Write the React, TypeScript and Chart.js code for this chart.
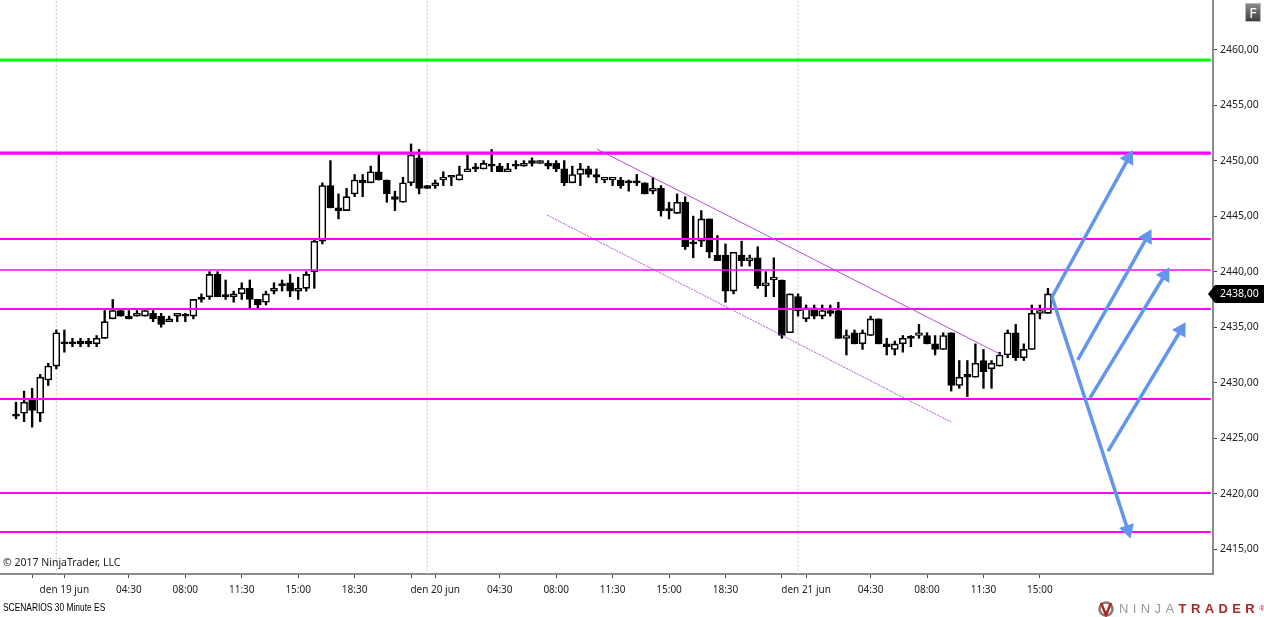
import { useEffect, useRef } from 'react';
import { Chart, registerables } from 'chart.js';

Chart.register(...registerables);

const FONT = '"Noto Sans", "Liberation Sans", Arial, sans-serif';

// 30 minute ES bars, first to last
const opens = [2427, 2427.25, 2428.5, 2427.25, 2430.25, 2431.5, 2433.5, 2433.5, 2433.75, 2433.75, 2433.5, 2434, 2435.75, 2436.5, 2436, 2436, 2436, 2436.25, 2436, 2435.5, 2436, 2436, 2436, 2437.5, 2437.75, 2439.75, 2437.75, 2437.75, 2438, 2438.5, 2437.5, 2437.25, 2438.25, 2438.75, 2439, 2438.25, 2438.5, 2440, 2442.75, 2447.75, 2445.75, 2445.5, 2447, 2448.25, 2448, 2449, 2448.25, 2446.75, 2446.25, 2448, 2450.25, 2447.75, 2447.75, 2448.25, 2448.5, 2448.25, 2449, 2449.25, 2449.25, 2449.5, 2449.5, 2449, 2449.5, 2449.5, 2450, 2449.75, 2449.75, 2449.75, 2449.25, 2448, 2448.75, 2449.25, 2448.75, 2448.25, 2448.25, 2448.25, 2448, 2448, 2448, 2447.25, 2447.5, 2445.5, 2445.25, 2446.25, 2442.5, 2442.75, 2444.75, 2441.5, 2441.5, 2438.25, 2441.5, 2441, 2441.25, 2438.75, 2439.25, 2439.25, 2434.5, 2437.75, 2435.75, 2436.75, 2436, 2436.5, 2436.5, 2434, 2434.5, 2433.5, 2434.25, 2435.75, 2433.5, 2433, 2433.5, 2434, 2434.25, 2434.25, 2433.5, 2433, 2434.5, 2429.75, 2430.75, 2430.5, 2432, 2431.25, 2431.5, 2432.5, 2434.5, 2432.25, 2433, 2436.25, 2436.25];
const highs = [2428.25, 2429.25, 2429.5, 2430.75, 2431.75, 2434.75, 2434.75, 2434, 2434, 2434, 2434.25, 2436.5, 2437.5, 2436.5, 2436.5, 2436.5, 2436.5, 2436.5, 2436.25, 2436, 2436.25, 2436.25, 2437.5, 2438, 2440, 2440, 2439.25, 2438.25, 2439, 2439.25, 2437.5, 2438.25, 2439, 2439.25, 2439.75, 2439.5, 2440, 2443, 2448, 2450, 2447, 2447.5, 2448.75, 2448.75, 2449.5, 2450.75, 2448.25, 2447.25, 2448.5, 2451.5, 2451, 2447.75, 2448.25, 2449, 2448.5, 2449.5, 2450.5, 2449.75, 2450, 2451, 2449.75, 2449.75, 2450, 2450, 2450.25, 2450, 2450, 2450, 2450, 2449.5, 2449.75, 2449.5, 2449.25, 2448.5, 2448.5, 2448.5, 2448.25, 2448.75, 2448, 2448.5, 2447.75, 2446.25, 2447, 2446.75, 2445, 2445.5, 2444.75, 2443.25, 2442.5, 2441.75, 2442.75, 2441.5, 2442.25, 2440, 2441.25, 2439.25, 2438, 2438, 2437, 2437, 2437, 2437, 2437.25, 2434.75, 2434.75, 2434.75, 2436, 2435.75, 2434, 2433.75, 2434.25, 2434.25, 2435.25, 2434.5, 2434.25, 2434.5, 2434.5, 2432, 2432, 2433.5, 2433, 2432, 2432.75, 2434.75, 2435.25, 2433.5, 2437, 2437, 2438.5];
const lows = [2426.75, 2426.5, 2426, 2426.5, 2429.75, 2431.25, 2432.75, 2433.25, 2433.25, 2433.25, 2433.25, 2434, 2435.75, 2436, 2435.75, 2436, 2436, 2435.5, 2435, 2435.5, 2435.5, 2435.5, 2435.75, 2437.25, 2437.5, 2437.75, 2437.5, 2437.25, 2437.5, 2436.75, 2436.75, 2437, 2438, 2438.25, 2437.75, 2437.5, 2438.25, 2438.5, 2442.5, 2445.75, 2444.75, 2445.5, 2446.75, 2446.75, 2448, 2448.25, 2446.25, 2445.5, 2446.25, 2447.75, 2447, 2447.5, 2447.5, 2447.75, 2447.75, 2448.25, 2449, 2449, 2449.25, 2449, 2449, 2449, 2449.25, 2449.5, 2449.5, 2449.75, 2449.25, 2449, 2447.75, 2448, 2447.75, 2448.5, 2448, 2448, 2447.75, 2447.5, 2447.25, 2447.75, 2447, 2447, 2445, 2444.75, 2445.25, 2442, 2441.25, 2442.25, 2441.25, 2441, 2437.25, 2438, 2440.5, 2440.5, 2438.5, 2437.75, 2437.75, 2434, 2434.5, 2436, 2435.5, 2435.75, 2435.75, 2436, 2434, 2432.5, 2433.5, 2433, 2434.25, 2433.5, 2432.5, 2432.5, 2432.75, 2433.25, 2434, 2433.5, 2432.5, 2433, 2429.25, 2429.5, 2428.75, 2430.5, 2429.5, 2429.5, 2431.5, 2432.25, 2432, 2432, 2433, 2435.75, 2436.25];
const closes = [2427, 2428.25, 2427.5, 2430.5, 2431.5, 2434.5, 2433.5, 2433.5, 2433.5, 2433.5, 2434, 2435.5, 2436.5, 2436, 2435.75, 2436.25, 2436.5, 2435.75, 2435.25, 2435.75, 2436.25, 2436, 2437.5, 2437.5, 2439.75, 2437.75, 2437.75, 2438, 2438.5, 2437.5, 2437, 2438, 2438.5, 2438.75, 2438.25, 2438.5, 2439.75, 2442.75, 2447.75, 2445.75, 2445.5, 2446.75, 2448.25, 2448, 2449, 2448.25, 2447, 2446.5, 2448, 2450.5, 2447.5, 2447.5, 2448, 2448.5, 2448.5, 2448.75, 2449.25, 2449.25, 2449.75, 2449.5, 2449, 2449.25, 2449.5, 2449.75, 2449.75, 2450, 2449.5, 2449.25, 2448, 2448.75, 2449.25, 2448.75, 2448.5, 2448.5, 2448.5, 2447.75, 2448, 2448, 2447, 2447.5, 2445.5, 2445.5, 2446.25, 2442.25, 2442.5, 2444.75, 2441.75, 2441, 2438.25, 2441.75, 2441, 2441.25, 2438.75, 2439, 2439.5, 2434.25, 2438, 2436.5, 2436.75, 2436, 2436.5, 2436.25, 2434, 2434.25, 2433.5, 2434.5, 2435.75, 2433.5, 2433.25, 2433.5, 2434, 2434, 2434.5, 2433.5, 2433, 2434.25, 2429.75, 2430.5, 2430.5, 2431.75, 2431, 2431.75, 2432.5, 2434.5, 2432.25, 2433, 2436.25, 2436.5, 2438];

const priceTicks = [2415, 2420, 2425, 2430, 2435, 2440, 2445, 2450, 2455, 2460];
const timeTickBars = [2, 6, 14, 21, 28, 35, 42, 49, 52, 60, 67, 74, 81, 88, 95, 98, 106, 113, 120, 127];
const timeTickLabels = ['', 'den 19 jun', '04:30', '08:00', '11:30', '15:00', '18:30', '', 'den 20 jun', '04:30', '08:00', '11:30', '15:00', '18:30', '', 'den 21 jun', '04:30', '08:00', '11:30', '15:00'];
const sessionBars = [5, 51, 97];

const greenLevel = 2459.05;
const magentaLevels = [
  { price: 2450.68, width: 3.2 },
  { price: 2442.94, width: 2 },
  { price: 2440.15, width: 1.5 },
  { price: 2436.64, width: 2 },
  { price: 2428.54, width: 2 },
  { price: 2420.07, width: 2 },
  { price: 2416.56, width: 2 },
];
const levelEndBar = 148.2;

const channelTop = [{ x: 72.06, y: 2451.04 }, { x: 122.05, y: 2432.58 }];
const channelBottom = [{ x: 65.86, y: 2445.1 }, { x: 116, y: 2426.46 }];

// scenario arrows: start bar/price, end bar/price, head rotation
const arrows = [
  { from: [128.5, 2437.72], to: [138.0, 2450.23], rot: 29 },
  { from: [131.7, 2432.05], to: [140.3, 2443.12], rot: 29 },
  { from: [133.2, 2428.62], to: [142.5, 2439.7], rot: 31 },
  { from: [135.45, 2423.85], to: [144.5, 2434.75], rot: 31 },
  { from: [128.5, 2437.72], to: [137.9, 2416.75], rot: 162 },
];

const barIndex = closes.map((_, i) => i);
const formatPrice = (v: number) => v.toFixed(2).replace('.', ',');

// keeps the plot flush with the canvas edges, tick labels may not push it in
const noScalePadding = (scale: any) => {
  scale.paddingTop = 0;
  scale.paddingBottom = 0;
  scale.paddingLeft = 0;
  scale.paddingRight = 0;
};

const lastPriceTag = {
  id: 'lastPriceTag',
  afterDraw(chart: Chart) {
    const { ctx, scales } = chart;
    const y = scales.y.getPixelForValue(closes[closes.length - 1]);
    const x = scales.y.left;
    ctx.save();
    ctx.fillStyle = '#000';
    ctx.beginPath();
    ctx.moveTo(x - 5, y);
    ctx.lineTo(x + 2, y - 9);
    ctx.lineTo(1264, y - 9);
    ctx.lineTo(1264, y + 9);
    ctx.lineTo(x + 2, y + 9);
    ctx.closePath();
    ctx.fill();
    ctx.fillStyle = '#fff';
    ctx.font = `10.5px ${FONT}`;
    ctx.textBaseline = 'middle';
    ctx.fillText(formatPrice(closes[closes.length - 1]), x + 7, y + 0.5);
    ctx.restore();
  },
};

export default function App() {
  const canvasRef = useRef<HTMLCanvasElement>(null);

  useEffect(() => {
    if (!canvasRef.current) return;
    const lineBase = { type: 'line' as const, pointRadius: 0, fill: false, borderCapStyle: 'butt' as const };
    const chart = new Chart(canvasRef.current, {
      type: 'bar',
      data: {
        datasets: [
          ...sessionBars.map((bar) => ({
            ...lineBase,
            order: 9,
            data: [{ x: bar, y: 2412 }, { x: bar, y: 2466 }],
            borderColor: '#c4c4c4',
            borderWidth: 1,
            borderDash: [2, 2],
          })),
          {
            order: 7,
            barThickness: 1.7,
            grouped: false,
            data: barIndex.map((i) => ({ x: i, y: [lows[i], highs[i]] })),
            backgroundColor: '#000',
            borderWidth: 0,
          },
          {
            order: 6,
            barThickness: 7,
            grouped: false,
            minBarLength: 2,
            data: barIndex.map((i) => ({ x: i, y: [opens[i], closes[i]] })),
            backgroundColor: barIndex.map((i) => (closes[i] > opens[i] ? '#fff' : '#000')),
            borderColor: '#000',
            borderWidth: 1.6,
            borderSkipped: false,
          },
          {
            ...lineBase,
            order: 4,
            data: [{ x: -3, y: greenLevel }, { x: levelEndBar, y: greenLevel }],
            borderColor: '#00ff00',
            borderWidth: 3,
          },
          ...magentaLevels.map((level) => ({
            ...lineBase,
            order: 4,
            data: [{ x: -3, y: level.price }, { x: levelEndBar, y: level.price }],
            borderColor: '#ff00ff',
            borderWidth: level.width,
          })),
          {
            ...lineBase,
            order: 3,
            data: channelTop,
            borderColor: '#b050e0',
            borderWidth: 1,
          },
          {
            ...lineBase,
            order: 3,
            data: channelBottom,
            borderColor: '#b050e0',
            borderWidth: 1,
            borderDash: [2, 1],
          },
          ...arrows.map((arrow) => ({
            ...lineBase,
            order: 1,
            data: [{ x: arrow.from[0], y: arrow.from[1] }, { x: arrow.to[0], y: arrow.to[1] }],
            borderColor: '#6495ed',
            borderWidth: 3.5,
            pointStyle: 'triangle',
            pointRadius: [0, 9],
            pointRotation: [0, arrow.rot],
            pointBackgroundColor: '#6495ed',
            pointBorderColor: '#6495ed',
            pointBorderWidth: 0,
          })),
        ] as any,
      },
      options: {
        animation: false,
        responsive: false,
        events: [],
        layout: { padding: 0, autoPadding: false },
        plugins: { legend: { display: false }, tooltip: { enabled: false } },
        scales: {
          x: {
            type: 'linear',
            offset: false,
            min: -1.985,
            max: 148.47,
            grid: { offset: false, drawOnChartArea: false, tickLength: 4, tickColor: '#444' },
            border: { color: '#8c8c8c', width: 2 },
            afterFit: (scale: any) => { scale.height = 43; noScalePadding(scale); },
            afterBuildTicks: (scale: any) => { scale.ticks = timeTickBars.map((value) => ({ value })); },
            ticks: {
              autoSkip: false,
              maxRotation: 0,
              padding: 6,
              color: '#222',
              font: { family: FONT, size: 10 },
              callback: (_v: any, i: number) => timeTickLabels[i],
            },
          },
          y: {
            position: 'right',
            min: 2412.78,
            max: 2464.46,
            beginAtZero: false,
            grid: { drawOnChartArea: false, tickLength: 4, tickColor: '#444' },
            border: { color: '#8c8c8c', width: 2 },
            afterFit: (scale: any) => { scale.width = 51; noScalePadding(scale); },
            afterBuildTicks: (scale: any) => { scale.ticks = priceTicks.map((value) => ({ value })); },
            ticks: {
              padding: 3,
              color: '#222',
              font: { family: FONT, size: 10.5 },
              callback: (v: any) => formatPrice(Number(v)),
            },
          },
        },
      },
      plugins: [lastPriceTag],
    });
    return () => chart.destroy();
  }, []);

  return (
    <div style={{ position: 'fixed', left: 0, top: 0, width: 1264, height: 617, background: '#fff', overflow: 'hidden', fontFamily: FONT }}>
      <canvas ref={canvasRef} width={1264} height={617} style={{ display: 'block' }} />
      <div style={{ position: 'absolute', left: 3, top: 555, fontSize: 10.5, color: '#222', whiteSpace: 'nowrap' }}>© 2017 NinjaTrader, LLC</div>
      <div style={{ position: 'absolute', left: 3, top: 601, fontSize: 10.5, fontFamily: '"Liberation Sans", sans-serif', color: '#000', whiteSpace: 'nowrap', transform: 'scaleX(0.8)', transformOrigin: 'left' }}>SCENARIOS 30 Minute ES</div>
      <div style={{
        position: 'absolute', left: 1245, top: 3, width: 16, height: 19, boxSizing: 'border-box',
        background: 'linear-gradient(#8a8a8a, #3e3e3e)', border: '1px solid #bbb', color: '#fff',
        fontSize: 14, lineHeight: '17px', textAlign: 'center',
      }}>F</div>
      <svg width={22} height={16} viewBox="0 0 22 16" style={{ position: 'absolute', left: 1095, top: 601 }}>
        <circle cx={11} cy={8} r={6.5} fill="none" stroke="#8a7a6a" strokeWidth={2.5} />
        <path d="M6 2 L11 14 L16 2" fill="none" stroke="#a32a2a" strokeWidth={2.5} />
      </svg>
      <div style={{ position: 'absolute', left: 1119, top: 601, fontFamily: '"Liberation Sans", sans-serif', fontSize: 13, letterSpacing: 4.4, whiteSpace: 'nowrap', lineHeight: '15px' }}>
        <span style={{ color: '#999' }}>NINJA</span>
        <span style={{ color: '#a32a2a', fontWeight: 700 }}>TRADER</span>
        <span style={{ color: '#a32a2a', fontSize: 8, verticalAlign: 'top', letterSpacing: 0 }}>®</span>
      </div>
    </div>
  );
}
